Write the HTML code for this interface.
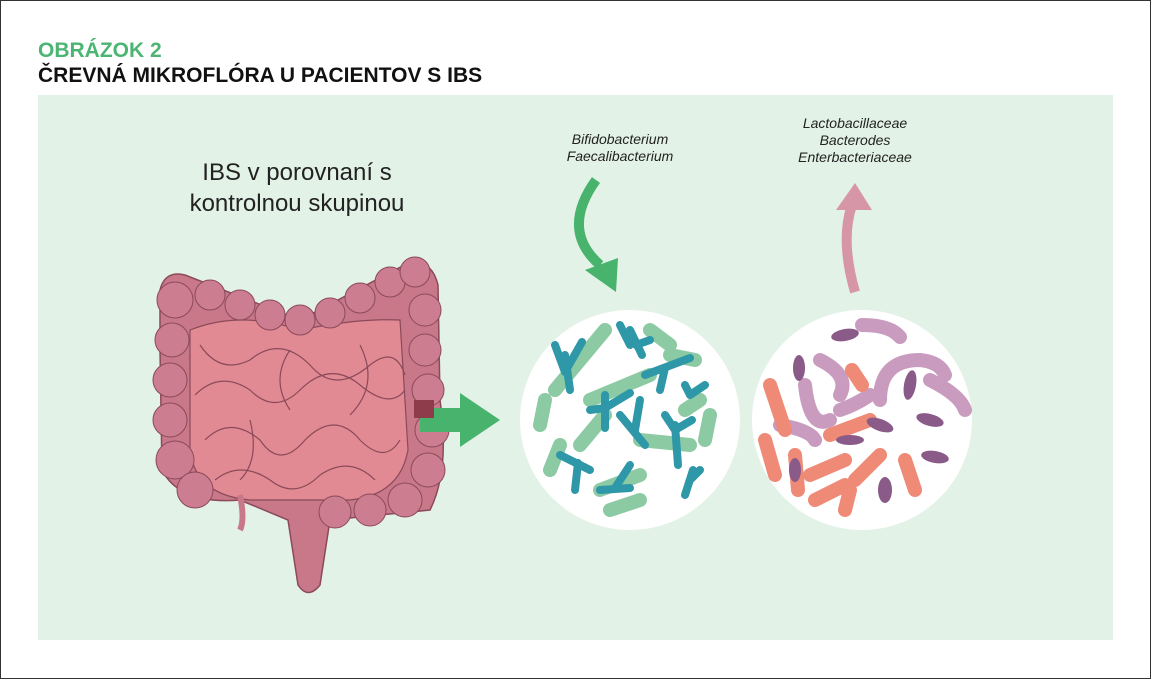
<!DOCTYPE html>
<html><head><meta charset="utf-8"><style>
body{margin:0;width:1151px;height:679px;overflow:hidden;background:#fff;font-family:"Liberation Sans",sans-serif}
</style></head><body>
<svg width="1151" height="679" xmlns="http://www.w3.org/2000/svg">
<rect x="0.5" y="0.5" width="1150" height="678" fill="#fff" stroke="#333"/>
<text x="38" y="57" font-size="21" font-weight="bold" fill="#4db574">OBRÁZOK 2</text>
<text x="38" y="82" font-size="21" font-weight="bold" fill="#111">ČREVNÁ MIKROFLÓRA U PACIENTOV S IBS</text>
<rect x="38" y="95" width="1075" height="545" fill="#e3f2e7"/>
<text x="297" y="180" font-size="24" text-anchor="middle" fill="#222">IBS v porovnaní s</text>
<text x="297" y="211" font-size="24" text-anchor="middle" fill="#222">kontrolnou skupinou</text>
<g font-size="14" font-style="italic" fill="#222" text-anchor="middle">
<text x="620" y="144">Bifidobacterium</text><text x="620" y="161">Faecalibacterium</text>
<text x="855" y="128">Lactobacillaceae</text><text x="855" y="145">Bacterodes</text><text x="855" y="162">Enterbacteriaceae</text>
</g>
<!-- intestine -->
<path d="M160 350 L160 290 Q165 270 185 275 L300 320 L410 262 Q432 260 438 285 L440 400 Q450 470 430 510 L330 520 L320 585 Q308 600 298 585 L288 520 L240 500 Q180 505 162 470 Z" fill="#c97889" stroke="#8a4a5a" stroke-width="1.5"/>
<path d="M190 330 Q240 310 300 330 Q360 318 400 320 L408 450 Q400 495 350 500 L250 500 Q195 495 190 450 Z" fill="#e28a93" stroke="#8a4a5a" stroke-width="1.2"/>
<g fill="#cc7d8f" stroke="#8a4a5a" stroke-width="1">
<circle cx="175" cy="300" r="18"/><circle cx="172" cy="340" r="17"/><circle cx="170" cy="380" r="17"/><circle cx="170" cy="420" r="17"/><circle cx="175" cy="460" r="19"/><circle cx="195" cy="490" r="18"/>
<circle cx="210" cy="295" r="15"/><circle cx="240" cy="305" r="15"/><circle cx="270" cy="315" r="15"/><circle cx="300" cy="320" r="15"/><circle cx="330" cy="313" r="15"/><circle cx="360" cy="298" r="15"/><circle cx="390" cy="282" r="15"/><circle cx="415" cy="272" r="15"/>
<circle cx="425" cy="310" r="16"/><circle cx="425" cy="350" r="16"/><circle cx="428" cy="390" r="16"/><circle cx="432" cy="430" r="17"/><circle cx="428" cy="470" r="17"/><circle cx="405" cy="500" r="17"/><circle cx="370" cy="510" r="16"/><circle cx="335" cy="512" r="16"/>
</g>
<path d="M240 495 Q245 520 240 530" fill="none" stroke="#c97889" stroke-width="6"/>
<g fill="none" stroke="#8a4a5a" stroke-width="1.2">
<path d="M200 345 q20 30 50 15 q30 -25 60 5 q25 30 60 0 q25 -20 35 10"/>
<path d="M195 395 q25 -25 55 -5 q25 25 50 0 q30 -30 60 -5 q30 25 45 5"/>
<path d="M205 440 q25 -25 55 0 q20 30 45 0 q30 -30 55 0 q25 25 40 0"/>
<path d="M215 480 q25 -20 55 0 q25 20 50 -5 q30 -20 55 5"/>
<path d="M290 350 q-20 30 0 60 M360 345 q20 40 -10 70 M250 420 q10 40 -10 60"/>
</g>
<polygon points="420,408 460,408 460,393 500,420 460,447 460,432 420,432" fill="#47b36c"/>
<rect x="414" y="400" width="20" height="18" fill="#8e3b4c"/>
<path d="M596 180 Q560 230 600 265" fill="none" stroke="#47b36c" stroke-width="10"/>
<polygon points="585,270 616,292 618,258" fill="#47b36c"/>
<path d="M855 292 Q840 240 852 205" fill="none" stroke="#d796a7" stroke-width="10"/>
<polygon points="836,210 855,183 872,210" fill="#d796a7"/>
<circle cx="630" cy="420" r="110" fill="#fff"/>
<circle cx="862" cy="420" r="110" fill="#fff"/>
<g stroke="#8ccaa3" stroke-width="14" stroke-linecap="round" fill="none">
<path d="M605 330 L555 390"/><path d="M650 330 L670 345"/><path d="M590 400 L650 375"/><path d="M545 400 L540 425"/><path d="M605 415 L580 445"/><path d="M640 440 L690 445"/><path d="M560 445 L550 470"/><path d="M600 490 L640 475"/><path d="M610 510 L640 500"/><path d="M710 415 L705 440"/><path d="M685 410 L700 400"/><path d="M670 355 L695 360"/>
</g>
<g stroke="#2e97a8" stroke-width="8" stroke-linecap="round" fill="none">
<path d="M570 390 L565 355 M565 372 L555 345 M565 372 L582 342"/>
<path d="M630 330 L642 355 M630 345 L620 325 M636 345 L650 340"/>
<path d="M645 375 L690 358 M665 368 L660 390"/>
<path d="M605 428 L605 395 M605 408 L590 410 M605 408 L630 393"/>
<path d="M645 445 L620 415 M635 430 L640 400"/>
<path d="M678 465 L675 425 M675 430 L665 415 M675 430 L692 420"/>
<path d="M690 395 L705 385 M690 395 L685 385"/>
<path d="M560 455 L590 470 M578 463 L575 490"/>
<path d="M600 490 L630 488 M615 488 L630 465"/>
<path d="M693 470 L685 495 M690 480 L700 470"/>
</g>
<g stroke="#c99cbf" stroke-width="14" stroke-linecap="round" fill="none">
<path d="M862 325 Q890 325 900 337"/><path d="M820 360 Q850 375 840 395"/><path d="M805 385 Q810 430 830 420"/>
<path d="M880 400 Q880 360 920 360 Q940 362 945 375"/><path d="M930 380 Q960 395 965 410"/><path d="M780 425 Q810 430 815 440"/><path d="M870 395 Q855 405 840 410"/>
</g>
<g stroke="#ee8a76" stroke-width="14" stroke-linecap="round" fill="none">
<path d="M770 385 L785 430"/><path d="M765 440 L775 475"/><path d="M795 455 L798 490"/><path d="M830 435 L870 420"/><path d="M810 475 L845 460"/><path d="M815 500 L845 485"/><path d="M855 480 L880 455"/><path d="M850 490 L845 510"/><path d="M905 460 L915 490"/><path d="M852 370 L862 385"/>
</g>
<g fill="#8a5a88">
<ellipse cx="845" cy="335" rx="14" ry="6" transform="rotate(-10 845 335)"/>
<ellipse cx="799" cy="368" rx="6" ry="13"/>
<ellipse cx="910" cy="385" rx="6" ry="15" transform="rotate(10 910 385)"/>
<ellipse cx="930" cy="420" rx="14" ry="6" transform="rotate(15 930 420)"/>
<ellipse cx="880" cy="425" rx="14" ry="6" transform="rotate(20 880 425)"/>
<ellipse cx="850" cy="440" rx="14" ry="5"/>
<ellipse cx="935" cy="457" rx="14" ry="6" transform="rotate(10 935 457)"/>
<ellipse cx="885" cy="490" rx="7" ry="13"/>
<ellipse cx="795" cy="470" rx="6" ry="12"/>
</g>
</svg>
</body></html>
